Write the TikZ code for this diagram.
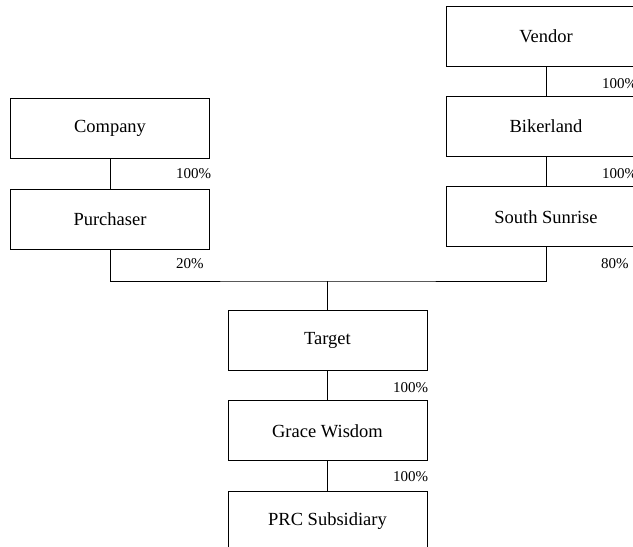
\documentclass[tikz,border=0pt]{standalone}
\usepackage{fontspec}
\setmainfont{Liberation Serif}
\usetikzlibrary{positioning}
\tikzset{
  entity/.style={draw, rectangle, line width=0.9pt, minimum width=199pt, minimum height=60pt, inner sep=0pt, font=\fontsize{18.5}{20}\selectfont},
  share/.style={anchor=west, inner sep=0pt, font=\fontsize{15}{16}\selectfont},
  link/.style={draw, line width=0.9pt}
}
\begin{document}
\begin{tikzpicture}[x=1pt, y=-1pt, node distance=30pt]
    \clip (0,0) rectangle (633,547);
    \fill[white] (0,0) rectangle (633,547);

    % Purchaser side
    \node [entity] (company) at (110,128.5) {Company};
    \node [entity, below=of company] (purchaser) {Purchaser};

    % Vendor side
    \node [entity] (vendor) at (546,36) {Vendor};
    \node [entity, below=29.5pt of vendor] (bikerland) {Bikerland};
    \node [entity, below=29.5pt of bikerland] (sunrise) {South Sunrise};

    % Target group
    \node [entity] (target) at (327.5,340.5) {Target};
    \node [entity, below=29.5pt of target] (grace) {Grace Wisdom};
    \node [entity, below=29.5pt of grace] (prc) {PRC Subsidiary};

    \coordinate (junction) at (327.5,281);

    % Ownership lines
    \path [link] (company) -- (purchaser);
    \path [link] (vendor) -- (bikerland);
    \path [link] (bikerland) -- (sunrise);
    \path [link] (purchaser.south) |- (junction) -| (sunrise.south);
    \path [link] (junction) -- (target);
    \path [link] (target) -- (grace);
    \path [link] (grace) -- (prc);

    % Shareholdings
    \node [share] (pcompany) at (176,174) {100\%};
    \node [share] (ppurchaser) at (176,264) {20\%};
    \node [share] (pvendor) at (602,84) {100\%};
    \node [share] (pbikerland) at (602,174) {100\%};
    \node [share] (psunrise) at (601,264) {80\%};
    \node [share] (ptarget) at (393,388) {100\%};
    \node [share] (pgrace) at (393,477) {100\%};
\end{tikzpicture}
\end{document}
